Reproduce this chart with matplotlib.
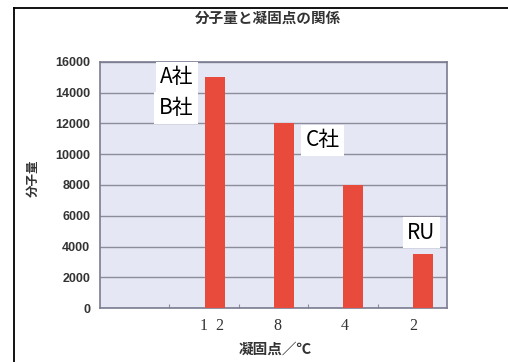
import matplotlib
matplotlib.use('Agg')
import matplotlib.pyplot as plt
from matplotlib.lines import Line2D

plt.rcParams['font.family'] = ['Noto Sans CJK JP', 'DejaVu Sans']

# freezing point categories (first slot is left empty) and molecular weight
categories = ['', '1  2', '8', '4', '2']
weights = [0, 15000, 12000, 8000, 3500]
companies = ['A社', 'B社', 'C社', 'RU']
company_pos = [(0.61, 15000), (0.59, 13000), (2.71, 10900), (4.13, 4900)]

fig = plt.figure(figsize=(5.08, 3.62), dpi=100)
fig.patch.set_facecolor('white')
ax = fig.add_axes([0.197, 0.149, 0.683, 0.680])
ax.set_facecolor('#e6e7f5')

x = list(range(len(categories)))
bar_x = [i + 0.15 for i in x]
ax.bar(bar_x, weights, width=0.29, color='#e84a3c', zorder=3)

ax.set_xlim(-0.5, 4.5)
ax.set_ylim(0, 16000)
ax.set_yticks(range(0, 16001, 2000))
ax.yaxis.grid(True, color='#8c8c9c', linewidth=1.0, zorder=1)
ax.tick_params(axis='y', length=0, pad=7, labelsize=9, labelcolor='#333333')
for lbl in ax.get_yticklabels():
    lbl.set_fontweight('bold')
    lbl.set_family(['Liberation Sans', 'DejaVu Sans'])

# boundary ticks drawn inward, category labels centred
ax.set_xticks([0.5, 1.5, 2.5, 3.5])
ax.set_xticklabels([])
ax.tick_params(axis='x', which='major', direction='in', length=3, color='#8c8c9c')
ax.set_xticks([1.12, 2.05, 3.03, 4.01], categories[1:], minor=True)
ax.tick_params(axis='x', which='minor', length=0, pad=7, labelsize=11.5,
               labelcolor='#333333')
for lbl in ax.get_xticklabels(minor=True):
    lbl.set_family(['Liberation Serif', 'DejaVu Serif'])

for s in ax.spines.values():
    s.set_color('#7c7c92')
    s.set_linewidth(1.2)

for name, (px, py) in zip(companies, company_pos):
    ax.text(px, py, name, ha='center', va='center', fontsize=15, color='black',
            zorder=4, bbox=dict(boxstyle='square,pad=0.22', fc='white', ec='none'))

fig.text(0.528, 0.950, '分子量と凝固点の関係', ha='center', va='center',
         fontsize=10.5, fontweight='bold', color='#333333')
fig.text(0.065, 0.508, '分子量', ha='center', va='center', rotation=90,
         fontsize=9, fontweight='bold', color='#333333')
fig.text(0.541, 0.036, '凝固点／℃', ha='center', va='center',
         fontsize=10.5, fontweight='bold', color='#333333')

# black frame lines along top and left edges
fig.add_artist(Line2D([13.5 / 508, 13.5 / 508], [0, 1 - 7.5 / 362],
                      transform=fig.transFigure, color='black', linewidth=1.3))
fig.add_artist(Line2D([13.5 / 508, 1], [1 - 7.5 / 362, 1 - 7.5 / 362],
                      transform=fig.transFigure, color='black', linewidth=1.3))

fig.savefig('out.png', dpi=100)
